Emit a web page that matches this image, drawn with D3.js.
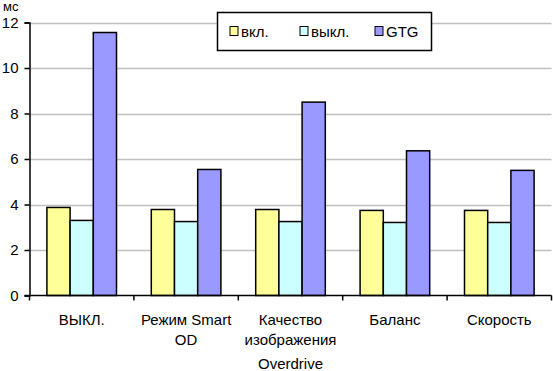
<!DOCTYPE html>
<html>
<head>
<meta charset="utf-8">
<script src="https://cdn.jsdelivr.net/npm/d3@7"></script>
<style>
  body { margin: 0; background: #fff; }
  svg text { font-family: "Liberation Sans", Arial, sans-serif; fill: #000; }
</style>
</head>
<body>
<div id="chart"></div>
<script>
// data
var categories = [["ВЫКЛ."], ["Режим Smart", "OD"], ["Качество", "изображения"], ["Баланс"], ["Скорость"]];
var seriesNames = ["вкл.", "выкл.", "GTG"];
var seriesColors = ["#FFFF99", "#CCFFFF", "#9999FF"];
var valuesOn = [3.87, 3.78, 3.78, 3.74, 3.74];
var valuesOff = [3.30, 3.25, 3.25, 3.21, 3.21];
var valuesGTG = [11.56, 5.54, 8.50, 6.36, 5.50];
var yTicks = [0, 2, 4, 6, 8, 10, 12];

var w = 553, h = 371;
var margin = {left: 29.5, right: 1.5, top: 22.5, bottom: 75.5};

var svg = d3.select("#chart").append("svg")
    .attr("width", w)
    .attr("height", h);

var x0 = d3.scaleBand()
    .domain(d3.range(categories.length))
    .range([margin.left, w - margin.right]);

// gap between groups = 1.5 x bar width
var barW = x0.bandwidth() / 4.5;
var x1 = d3.scaleBand()
    .domain(d3.range(3))
    .range([0, barW * 3]);

var y = d3.scaleLinear()
    .domain([0, 12])
    .range([h - margin.bottom, margin.top]);

// gridlines
svg.append("g")
    .selectAll("line")
    .data(yTicks.slice(1))
    .enter().append("line")
    .attr("x1", margin.left)
    .attr("x2", w - margin.right)
    .attr("y1", function(d){ return Math.round(y(d)) + 0.5; })
    .attr("y2", function(d){ return Math.round(y(d)) + 0.5; })
    .attr("stroke", "#C0C0C0")
    .attr("stroke-width", 1.5);

var rows = categories.map(function(c, i){
    return [valuesOn[i], valuesOff[i], valuesGTG[i]];
});

var groups = svg.append("g").selectAll("g")
    .data(rows)
    .enter().append("g")
    .attr("transform", function(d, i){ return "translate(" + (x0(i) + barW * 0.75) + ",0)"; });

groups.selectAll("rect")
    .data(function(d){ return d; })
    .enter().append("rect")
    .attr("x", function(d, j){ return x1(j); })
    .attr("y", function(d){ return y(d); })
    .attr("width", x1.bandwidth())
    .attr("height", function(d){ return y(0) - y(d); })
    .attr("fill", function(d, j){ return seriesColors[j]; })
    .attr("stroke", "#000")
    .attr("stroke-width", 1.5);

// y axis
var yAxis = svg.append("g")
    .attr("transform", "translate(" + margin.left + ",0)")
    .call(d3.axisLeft(y).tickValues(yTicks).tickSize(5).tickPadding(6).tickFormat(d3.format("d")));
yAxis.select(".domain").attr("stroke", "#000").attr("stroke-width", 1.5);
yAxis.selectAll(".tick line").attr("stroke", "#000").attr("stroke-width", 1.5);
yAxis.selectAll("text")
    .style("font-family", "'Liberation Sans', Arial, sans-serif")
    .style("font-size", "15px")
    .attr("fill", "#000");

// x axis with boundary ticks
var xAxisG = svg.append("g");
xAxisG.append("line")
    .attr("x1", margin.left - 5)
    .attr("x2", w - margin.right)
    .attr("y1", y(0))
    .attr("y2", y(0))
    .attr("stroke", "#000")
    .attr("stroke-width", 1.5);
xAxisG.selectAll(".bt")
    .data(d3.range(categories.length + 1))
    .enter().append("line")
    .attr("class", "bt")
    .attr("x1", function(d){ return margin.left + d * x0.step(); })
    .attr("x2", function(d){ return margin.left + d * x0.step(); })
    .attr("y1", y(0))
    .attr("y2", y(0) + 5)
    .attr("stroke", "#000")
    .attr("stroke-width", 1.5);

var labels = xAxisG.selectAll(".xl")
    .data(categories)
    .enter().append("text")
    .attr("class", "xl")
    .attr("text-anchor", "middle")
    .style("font-size", "15px");
labels.selectAll("tspan")
    .data(function(d, i){ return d.map(function(t){ return {t: t, i: i}; }); })
    .enter().append("tspan")
    .attr("x", function(d){ return x0(d.i) + x0.bandwidth() / 2; })
    .attr("y", function(d, k){ return 325 + k * 20; })
    .text(function(d){ return d.t; });

// axis titles
svg.append("text")
    .attr("x", x0(2) + x0.bandwidth() / 2)
    .attr("y", 369)
    .attr("text-anchor", "middle")
    .style("font-size", "15px")
    .text("Overdrive");

svg.append("text")
    .attr("x", 3)
    .attr("y", 11)
    .style("font-size", "13px")
    .text("мс");

// legend
var legend = svg.append("g").attr("transform", "translate(217.5,12.5)");
legend.append("rect")
    .attr("width", 214)
    .attr("height", 38)
    .attr("fill", "#fff")
    .attr("stroke", "#000")
    .attr("stroke-width", 1.5);
var legX = [12.5, 82.5, 157.5];
var items = legend.selectAll(".li")
    .data(seriesNames)
    .enter().append("g")
    .attr("transform", function(d, i){ return "translate(" + legX[i] + ",0)"; });
items.append("rect")
    .attr("y", 14)
    .attr("width", 8)
    .attr("height", 9)
    .attr("fill", function(d, i){ return seriesColors[i]; })
    .attr("stroke", "#000")
    .attr("stroke-width", 1);
items.append("text")
    .attr("x", 11)
    .attr("y", 24)
    .style("font-size", "15px")
    .text(function(d){ return d; });
</script>
</body>
</html>
